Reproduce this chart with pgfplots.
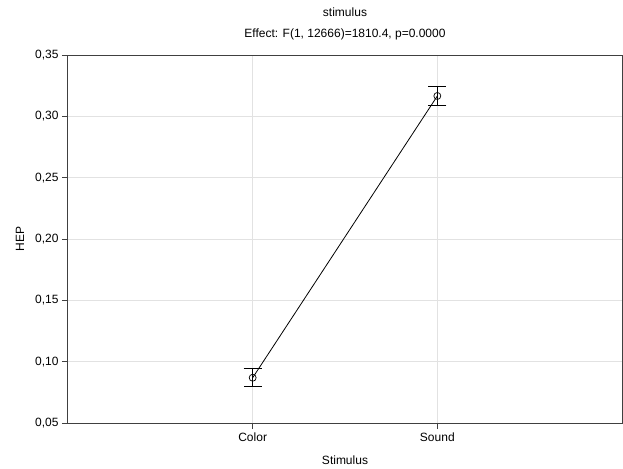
\documentclass[border=0pt]{standalone}
\usepackage{pgfplots}
\pgfplotsset{compat=1.18}
\usepackage{fontspec}
\setmainfont{Liberation Sans}
\definecolor{axisgray}{HTML}{404040}
\definecolor{gridgray}{HTML}{E2E2E2}
\begin{document}
\begin{tikzpicture}
\begin{axis}[
    scale only axis,
    width=554pt, height=368pt,
    xmin=0, xmax=3,
    ymin=0.05, ymax=0.35,
    xtick={1,2},
    xticklabels={Color,Sound},
    ytick={0.05,0.10,...,0.36},
    yticklabel style={/pgf/number format/.cd, use comma, fixed, fixed zerofill, precision=2, assume math mode=true},
    tick align=outside,
    xtick pos=bottom, ytick pos=left,
    major tick length=6pt,
    tick style={axisgray, line width=0.8pt},
    axis line style={axisgray, line width=1pt},
    grid=major,
    major grid style={gridgray, line width=0.6pt},
    font=\fontsize{12}{14}\selectfont,
    xlabel={Stimulus},
    ylabel={HEP},
    xlabel style={yshift=-8pt},
    ylabel style={yshift=4pt},
    title={stimulus\\Effect: F(1, 12666)=1810.4, p=0.0000},
    title style={align=center, font=\fontsize{12}{21}\selectfont, yshift=5pt},
]

% Mittelwerte mit Fehlerbalken
\addplot[
  black, line width=0.8pt,
  mark=o, mark size=3.5pt, mark options={line width=0.7pt},
  error bars/.cd, y dir=both, y explicit,
  error bar style={black, line width=0.8pt},
  error mark options={rotate=90, black, mark size=9pt, line width=0.8pt}
] coordinates {
  (1, 0.0869) +- (0, 0.0074)
  (2, 0.3166) +- (0, 0.0076)
};

\end{axis}
\useasboundingbox (-68pt,-45pt) rectangle (555pt,423pt);
\end{tikzpicture}
\end{document}
